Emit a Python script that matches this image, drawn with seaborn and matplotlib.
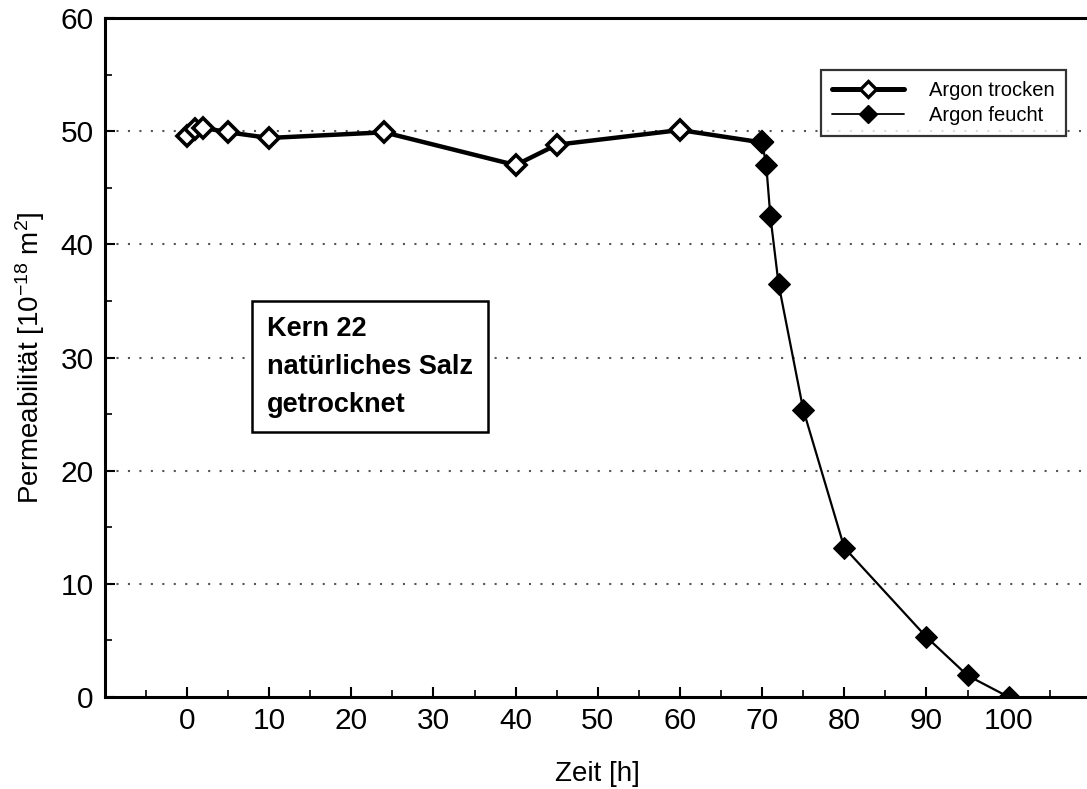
import matplotlib
matplotlib.use("Agg")
import matplotlib.pyplot as plt
from matplotlib.ticker import MultipleLocator
from matplotlib.lines import Line2D
import seaborn as sns
import pandas as pd

# Argon, dry core
zeit_trocken = [0, 1, 2, 5, 10, 24, 40, 45, 60, 70]
perm_trocken = [49.6, 50.2, 50.3, 49.9, 49.4, 49.9, 47.0, 48.8, 50.1, 49.0]

# Argon, moist
zeit_feucht = [70, 70.5, 71, 72, 75, 80, 90, 95, 100]
perm_feucht = [49.0, 47.0, 42.5, 36.5, 25.4, 13.2, 5.3, 1.9, 0.0]

x_ticks = [0, 10, 20, 30, 40, 50, 60, 70, 80, 90, 100]
y_ticks = [0, 10, 20, 30, 40, 50, 60]

sns.set_style("ticks")
plt.rcParams["font.family"] = ["Liberation Sans", "DejaVu Sans"]
plt.rcParams["mathtext.fontset"] = "custom"
plt.rcParams["mathtext.rm"] = "Liberation Sans"
plt.rcParams["mathtext.it"] = "Liberation Sans:italic"
for key in ["text.color", "axes.labelcolor", "xtick.color", "ytick.color",
            "xtick.labelcolor", "ytick.labelcolor"]:
    plt.rcParams[key] = "black"

fig = plt.figure(figsize=(10.87, 7.89), dpi=100)
ax = fig.add_axes([104.8 / 1087, 92 / 789, 986 / 1087, 679 / 789])

df_t = pd.DataFrame({"Zeit": zeit_trocken, "Perm": perm_trocken})
df_f = pd.DataFrame({"Zeit": zeit_feucht, "Perm": perm_feucht})

sns.lineplot(data=df_t, x="Zeit", y="Perm", ax=ax, color="black", lw=3.2,
             marker="D", markersize=10, markerfacecolor="white",
             markeredgecolor="black", markeredgewidth=2.6, zorder=3)
sns.lineplot(data=df_f, x="Zeit", y="Perm", ax=ax, color="black", lw=1.6,
             marker="D", markersize=11, markerfacecolor="black",
             markeredgecolor="black", zorder=4)

ax.set_xlim(-10, 110)
ax.set_ylim(0, 60)
ax.set_xticks(x_ticks)
ax.set_yticks(y_ticks)
ax.xaxis.set_minor_locator(MultipleLocator(5))
ax.yaxis.set_minor_locator(MultipleLocator(5))
ax.tick_params(axis="both", which="major", direction="in", length=7, width=1.5,
               labelsize=21.5, colors="black", labelcolor="black", pad=8)
ax.tick_params(axis="both", which="minor", direction="in", length=5, width=1.2,
               colors="black")
ax.tick_params(axis="x", which="major", pad=7)

for y in [10, 20, 30, 40, 50]:
    ax.axhline(y, color="#555555", lw=1.5, ls=(0, (1, 4.5)), zorder=1)

for side in ["left", "bottom", "top"]:
    ax.spines[side].set_linewidth(2.2)
    ax.spines[side].set_color("black")
ax.spines["right"].set_visible(False)

ax.set_xlabel("Zeit [h]", fontsize=20, labelpad=19, color="black")
ax.set_ylabel(r"Permeabilität [10$^{\mathregular{-18}}$ m$^{\mathregular{2}}$]",
              fontsize=20, labelpad=10, color="black")

handles = [
    Line2D([], [], color="black", lw=3.6, marker="D", markersize=8,
           markerfacecolor="white", markeredgewidth=2.4),
    Line2D([], [], color="black", lw=1.3, marker="D", markersize=9,
           markerfacecolor="black"),
]
leg = ax.legend(handles, ["Argon trocken", "Argon feucht"], loc="upper right",
                bbox_to_anchor=(1066 / 1087, 1 - 70 / 789),
                bbox_transform=fig.transFigure, fontsize=14.5, frameon=True,
                fancybox=False, edgecolor="black", handlelength=3.6,
                borderpad=0.55, labelspacing=0.28, handletextpad=1.25,
                borderaxespad=0.0)
leg.get_frame().set_linewidth(1.6)
for t in leg.get_texts():
    t.set_color("black")

ax.text(9.73, 29.2, "Kern 22\nnatürliches Salz\ngetrocknet", fontsize=19.5,
        fontweight="bold", va="center", ha="left", linespacing=1.6, zorder=5,
        color="black",
        bbox=dict(boxstyle="square,pad=0.55", facecolor="white",
                  edgecolor="black", linewidth=1.8))

fig.savefig("out.png", dpi=100)
